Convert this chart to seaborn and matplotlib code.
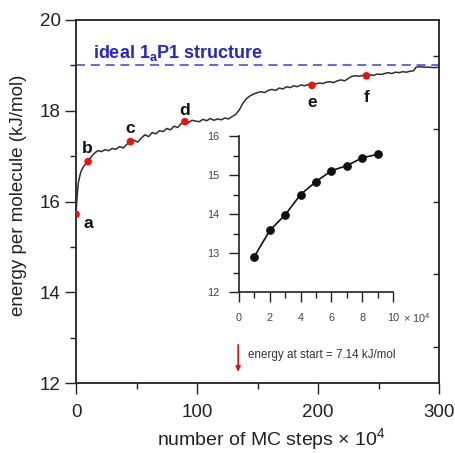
import numpy as np
import pandas as pd
import matplotlib
matplotlib.use("Agg")
import matplotlib.pyplot as plt
import seaborn as sns

# Energy trace during the Monte Carlo run (steps in units of 10^4)
mc_steps = [0, 0.5, 1, 1.5, 2, 3, 4, 5, 6, 8, 10, 12, 14, 16, 18,
            21, 24, 27, 30, 33, 36, 39, 42, 45, 48, 51, 54, 57, 60, 63, 66, 69, 72,
            75, 78, 81, 84, 87, 90, 93, 96, 99, 102, 105, 108, 111, 114, 117, 120,
            123, 126, 129, 132, 135, 138, 141, 144, 147, 150, 153, 156, 159, 162,
            165, 168, 171, 174, 177, 180, 183, 186, 189, 192, 195, 198, 201, 204,
            207, 210, 213, 216, 219, 222, 225, 228, 231, 234, 237, 240, 243, 246,
            249, 252, 255, 258, 261, 264, 267, 270, 273, 276, 279, 281, 284, 288,
            292, 296, 300]
energy = [15.72, 15.95, 16.15, 16.30, 16.42, 16.55, 16.65, 16.71, 16.76, 16.83, 16.88,
          16.96, 17.03, 17.08, 17.12,
          17.10, 17.14, 17.12, 17.17, 17.15, 17.21, 17.18, 17.26, 17.32, 17.35, 17.31,
          17.40, 17.47, 17.43, 17.52, 17.49, 17.56, 17.54,
          17.61, 17.58, 17.66, 17.63, 17.72, 17.76, 17.74, 17.79, 17.77, 17.76, 17.81,
          17.78, 17.83, 17.79, 17.82, 17.80,
          17.84, 17.82, 17.87, 17.92, 18.02, 18.17, 18.27, 18.33, 18.37, 18.40, 18.42,
          18.40, 18.45, 18.47,
          18.45, 18.50, 18.48, 18.53, 18.51, 18.55, 18.53, 18.57, 18.55, 18.58, 18.56,
          18.59, 18.61, 18.60,
          18.63, 18.64, 18.62, 18.66, 18.68, 18.66, 18.71, 18.76, 18.77, 18.76, 18.78,
          18.77, 18.79, 18.78,
          18.81, 18.80, 18.82, 18.84, 18.82, 18.85, 18.84, 18.86, 18.85, 18.87, 18.88,
          18.96, 18.97, 18.96,
          18.96, 18.95, 18.96]

# Snapshots marked on the trace
snap_labels = ["a", "b", "c", "d", "e", "f"]
snap_steps = [0, 10, 45, 90, 195, 240]

ideal_energy = 19.0
ideal_label = r"ideal 1$_\mathbf{a}$P1 structure"

# Early part of the run (steps in units of 10^4)
inset_steps = [1, 2, 3, 4, 5, 6, 7, 8, 9]
inset_energy = [12.91, 13.58, 13.98, 14.50, 14.83, 15.11, 15.24, 15.44, 15.53]

start_note = "energy at start = 7.14 kJ/mol"
start_note_step = 134

sns.set_style("ticks")
plt.rcParams["font.family"] = ["Liberation Sans", "DejaVu Sans"]
plt.rcParams["mathtext.fontset"] = "custom"
plt.rcParams["mathtext.rm"] = "Liberation Sans"
plt.rcParams["mathtext.it"] = "Liberation Sans:italic"
plt.rcParams["mathtext.bf"] = "Liberation Sans:bold"

fig = plt.figure(figsize=(4.55, 4.53), dpi=100)
ax = fig.add_axes([76 / 455, 1 - 383 / 453, 363 / 455, 363 / 453])

trace = pd.DataFrame({"step": mc_steps, "energy": energy})
sns.lineplot(data=trace, x="step", y="energy", ax=ax, color="#2e2e2e",
             lw=1.1, estimator=None, sort=False)

lookup = dict(zip(mc_steps, energy))
snaps = pd.DataFrame({"step": snap_steps,
                      "energy": [lookup[s] for s in snap_steps],
                      "label": snap_labels})
sns.scatterplot(data=snaps, x="step", y="energy", ax=ax, color="#ee1111",
                s=30, edgecolor="none", zorder=5)

# label offsets in points (baseline of the letter relative to the marker)
offsets = {"a": (9, -10), "b": (-1, 6), "c": (0, 6.5), "d": (0, 5),
           "e": (0, -15.5), "f": (0, -19)}
for _, r in snaps.iterrows():
    dx, dy = offsets[r["label"]]
    ax.annotate(r["label"], (r["step"], r["energy"]), xytext=(dx, dy),
                textcoords="offset points", ha="center", va="baseline",
                fontsize=12.5, fontweight="bold", color="#111111")

ax.axhline(ideal_energy, color="#5a5ae0", lw=1.3, dashes=(5, 3.2))
ax.text(14, 19.27, ideal_label, color="#2525cc", fontsize=13,
        fontweight="bold", ha="left", va="center")

ax.set_xlim(0, 300)
ax.set_ylim(12, 20)
ax.set_xticks([0, 100, 200, 300])
ax.set_xticks([50, 150, 250], minor=True)
ax.set_yticks([12, 14, 16, 18, 20])
ax.set_yticks([13, 15, 17, 19], minor=True)
ax.tick_params(axis="both", which="major", direction="out", length=8,
               width=1.0, labelsize=13.5, color="#222222", labelcolor="#222222")
ax.tick_params(axis="both", which="minor", direction="out", length=4.5,
               width=1.0, color="#222222")
ax.tick_params(axis="y", which="major", pad=3)
ax.tick_params(axis="x", which="major", pad=7)
for sp in ax.spines.values():
    sp.set_visible(True)
    sp.set_linewidth(1.3)
    sp.set_color("#222222")

ax.set_xlabel("number of MC steps × 10$^{4}$", fontsize=14, color="#222222")
ax.set_ylabel("energy per molecule (kJ/mol)", fontsize=13.5, color="#222222")
ax.xaxis.set_label_coords(0.537, -0.118)
ax.yaxis.set_label_coords(-0.135, 0.518)

# right-hand axis with inward ticks only
twin = ax.twinx()
twin.set_ylim(12, 20)
twin.set_yticks([12.8, 14.4, 16.0, 17.6, 19.2])
twin.tick_params(axis="y", direction="in", length=4, width=1.0,
                 labelright=False, color="#222222")
for sp in twin.spines.values():
    sp.set_visible(False)

# starting energy note
ax.annotate("", xy=(start_note_step, 12.25), xytext=(start_note_step, 12.84),
            arrowprops=dict(arrowstyle="-|>", color="#dd1111", lw=1.2,
                            mutation_scale=7, shrinkA=0, shrinkB=0))
ax.text(start_note_step + 8, 12.62, start_note, fontsize=8.4,
        color="#333333", ha="left", va="center")

# inset: first 10^5 steps
axin = fig.add_axes([239 / 455, 1 - 292 / 453, 154 / 455, 156 / 453])
early = pd.DataFrame({"step": inset_steps, "energy": inset_energy})
sns.lineplot(data=early, x="step", y="energy", ax=axin, color="#111111",
             lw=1.2, marker="o", markersize=5.5, markeredgecolor="#111111",
             estimator=None)
axin.set_xlim(0, 10)
axin.set_ylim(12, 16)
axin.set_xticks([0, 2, 4, 6, 8, 10])
axin.set_xticks([1, 3, 5, 7, 9], minor=True)
axin.set_yticks([12, 13, 14, 15, 16])
axin.set_yticks([12.5, 13.5, 14.5, 15.5], minor=True)
axin.tick_params(axis="both", which="major", direction="out", length=7,
                 width=1.0, labelsize=7.8, labelcolor="#444444",
                 color="#222222")
axin.tick_params(axis="both", which="minor", direction="out", length=4.5,
                 width=1.0, color="#222222")
axin.tick_params(axis="x", pad=8)
axin.tick_params(axis="y", pad=7)
axin.set_xlabel("")
axin.set_ylabel("")
axin.patch.set_alpha(0)
for side in ("top", "right"):
    axin.spines[side].set_visible(False)
for side in ("left", "bottom"):
    axin.spines[side].set_linewidth(1.2)
    axin.spines[side].set_color("#222222")
axin.annotate("× 10$^{4}$", xy=(10, 0), xycoords=("data", "axes fraction"),
              xytext=(7, -19), textcoords="offset points", fontsize=7.8,
              color="#444444", ha="left", va="center")

fig.savefig("out.png", dpi=100)
